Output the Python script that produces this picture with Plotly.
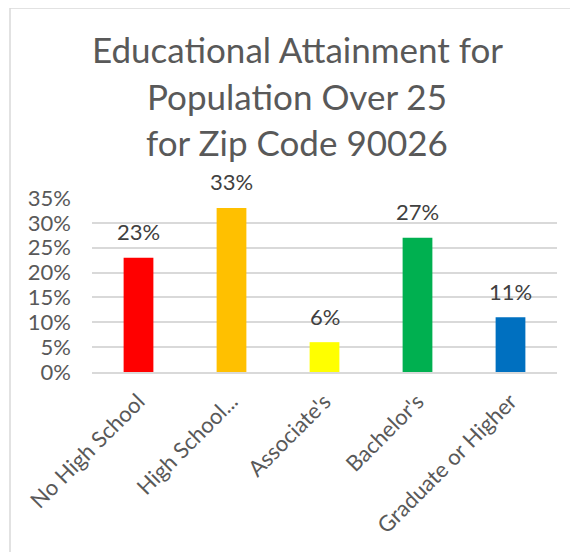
import plotly.graph_objects as go

categories = ["No High School", "High School...", "Associate's", "Bachelor's", "Graduate or Higher"]
values = [0.23, 0.33, 0.06, 0.27, 0.11]
colors = ["#FF0000", "#FFC000", "#FFFF00", "#00B050", "#0070C0"]
title_lines = ["Educational Attainment for", "Population Over 25", "for Zip Code 90026"]

FONT = "Lato"
GRAY = "#595959"

fig = go.Figure(go.Bar(
    x=categories, y=values, marker=dict(color=colors, line=dict(width=0)),
    cliponaxis=False,
))

for c, v in zip(categories, values):
    fig.add_annotation(x=c, y=v, text=f"{round(v*100)}%", showarrow=False,
                       xanchor="center", yanchor="middle", yshift=26,
                       font=dict(family=FONT, size=22, color="#404040"))

OFF = 8  # browser body margin
L, R, T, B = 92 - OFF, 557 - OFF, 198 - OFF, 372 - OFF
W, H = 578 - OFF, 552 - OFF
pw, ph = R - L, B - T

def px(x):
    return (x - OFF - L) / pw

def py(y):
    return (B - (y - OFF)) / ph

for line, yc in zip(title_lines, [49, 96, 142]):
    fig.add_annotation(text=line, xref="paper", yref="paper", x=px(297), y=py(yc),
                       showarrow=False, xanchor="center", yanchor="middle",
                       font=dict(family=FONT, size=35, color=GRAY))

fig.add_shape(type="rect", xref="paper", yref="paper",
              x0=px(10), y0=py(700), x1=px(700), y1=py(8),
              line=dict(color="#D9D9D9", width=1.5), layer="below")

fig.update_layout(
    width=W, height=H, margin=dict(l=L, r=W - R, t=T, b=H - B, autoexpand=False),
    paper_bgcolor="white", plot_bgcolor="white", showlegend=False,
    bargap=0.68,
    font=dict(family=FONT, color=GRAY),
    yaxis=dict(range=[0, 0.35], dtick=0.05, tickformat=".0%", showgrid=True,
               gridcolor="#D9D9D9", gridwidth=1.5, zeroline=False, showline=False,
               automargin=False, ticklabelstandoff=20,
               tickfont=dict(family=FONT, size=22, color=GRAY), ticks="", ticklen=0),
    xaxis=dict(tickangle=-45, showline=True, linecolor="#D9D9D9", linewidth=2,
               automargin=False, ticklabelstandoff=6,
               tickfont=dict(family=FONT, size=22, color=GRAY), ticks=""),
)

fig.write_html("out.html")
